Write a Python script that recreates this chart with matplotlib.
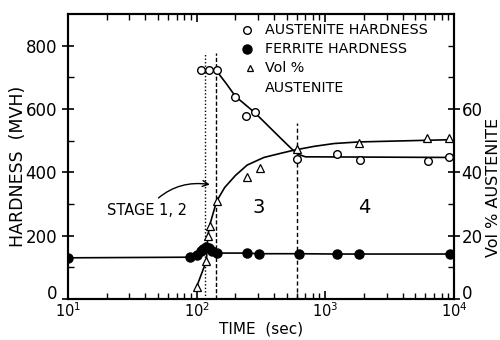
import numpy as np
import matplotlib.pyplot as plt
from matplotlib.ticker import FixedLocator, LogLocator, NullFormatter

# austenite hardness (open circles), MVH
t_aus = [108, 124, 143, 200, 240, 282, 607, 1228, 1865, 6250, 9200]
hv_aus = [724, 724, 724, 638, 577, 589, 442, 457, 440, 437, 450]
# hand drawn curve through them
t_aus_fit = [143, 170, 200, 282, 449, 554, 607, 700, 9300]
hv_aus_fit = [720, 680, 640, 589, 508, 472, 458, 449, 447]

# ferrite hardness (filled circles), MVH
t_fer = [10, 89, 100, 108, 113, 118, 124, 131, 143, 244, 303, 621, 1228, 1820, 9300]
hv_fer = [130, 132, 140, 150, 158, 165, 160, 152, 145, 145, 143, 143, 142, 142, 142]

# vol % austenite (open triangles)
t_vol = [100, 119, 122, 126, 143, 244, 310, 607, 1832, 6170, 9200]
vol = [3.9, 12, 19.8, 23.2, 30.9, 38.5, 41.5, 47.3, 49.4, 50.7, 50.7]
t_vol_fit = [100, 119, 122, 126, 143, 165, 200, 247, 333, 449, 570, 817, 1170, 1820, 9300]
vol_fit = [3.9, 12, 19.8, 23.2, 30.9, 35.2, 39, 42.3, 44.7, 46, 47, 48.2, 49.1, 49.6, 50.3]

# stage boundaries (sec) and how high the marker lines go (MVH)
t_stage = [117, 141, 607]
top_stage = [778, 778, 555]
styles = [(0, (1, 1.5)), (0, (3, 1.5)), (0, (3, 2))]

fig = plt.figure(figsize=(5, 3.4), dpi=100)
ax = fig.add_axes([0.136, 0.1206, 0.772, 0.8382])
ax2 = ax.twinx()

for t, top, ls in zip(t_stage, top_stage, styles):
    ax.plot([t, t], [0, top], color='k', lw=1.0, ls=ls, zorder=1)

ax.plot(t_aus_fit, hv_aus_fit, color='k', lw=1.2, zorder=2)
ax.plot(t_aus, hv_aus, 'o', ms=5.5, mfc='white', mec='k', mew=1.0, zorder=3)
ax.plot(t_fer, hv_fer, 'o-', color='k', lw=1.2, ms=6.5, zorder=3)
ax2.plot(t_vol_fit, vol_fit, color='k', lw=1.2, zorder=2)
ax2.plot(t_vol, vol, '^', ms=5.5, mfc='white', mec='k', mew=0.9, zorder=3)

ax.set_xscale('log')
ax.set_xlim(10, 1e4)
ax.set_ylim(0, 900)
ax2.set_ylim(0, 90)

ax.xaxis.set_major_locator(FixedLocator([10, 100, 1000, 10000]))
ax.set_xticklabels(['$10^1$', '$10^2$', '$10^3$', '$10^4$'])
ax.xaxis.set_minor_locator(LogLocator(base=10, subs=np.arange(2, 10) * 1.0))
ax.xaxis.set_minor_formatter(NullFormatter())
ax.set_yticks(np.arange(0, 801, 200))
ax.set_yticks(np.arange(100, 900, 200), minor=True)
ax2.set_yticks(np.arange(0, 61, 20))
ax2.set_yticks([10, 30, 50, 70, 80], minor=True)

ax.tick_params(which='major', direction='inout', length=9, width=1.2, labelsize=12, top=True)
ax.tick_params(which='minor', direction='in', length=4, width=1.0, top=True)
ax.tick_params(axis='x', which='major', direction='in', length=6, labelsize=10.5, pad=2)
ax2.tick_params(which='major', direction='inout', length=9, width=1.2, labelsize=12, pad=1)
ax2.tick_params(which='minor', direction='in', length=4, width=1.0)
ax2.get_yticklabels()[0].set_va('baseline')
ax.get_yticklabels()[0].set_va('baseline')
for a in (ax, ax2):
    for s in a.spines.values():
        s.set_linewidth(1.5)

ax.set_xlabel('TIME  (sec)', fontsize=11, labelpad=1)
ax.set_ylabel('HARDNESS  (MVH)', fontsize=12.5, labelpad=2)
ax.yaxis.set_label_coords(-0.105, 0.467)
ax2.set_ylabel('Vol % AUSTENITE', fontsize=11.5)
ax2.yaxis.set_label_coords(1.083, 0.393)

# stage labels
ax.annotate('STAGE 1, 2', xy=(133, 360), xytext=(41, 281), ha='center', va='center',
            fontsize=10.5, arrowprops=dict(arrowstyle='->', color='k', lw=1.0,
                                           connectionstyle='arc3,rad=-0.3'))
ax.text(303, 288, '3', fontsize=14, ha='center', va='center')
ax.text(1995, 288, '4', fontsize=14, ha='center', va='center')

# legend drawn by hand
ax.plot([0.465], [0.944], 'o', ms=5.5, mfc='white', mec='k', mew=1.0, transform=ax.transAxes, clip_on=False)
ax.plot([0.465], [0.877], 'o', ms=6.5, color='k', transform=ax.transAxes, clip_on=False)
ax.plot([0.472], [0.81], '^', ms=4.5, mfc='white', mec='k', mew=0.9, transform=ax.transAxes, clip_on=False)
leg = ['AUSTENITE HARDNESS', 'FERRITE HARDNESS', 'Vol %', 'AUSTENITE']
for lab, y in zip(leg, [0.944, 0.877, 0.81, 0.74]):
    ax.text(0.51, y, lab, fontsize=10.3, ha='left', va='center', transform=ax.transAxes)

plt.savefig('out.png', dpi=100)
